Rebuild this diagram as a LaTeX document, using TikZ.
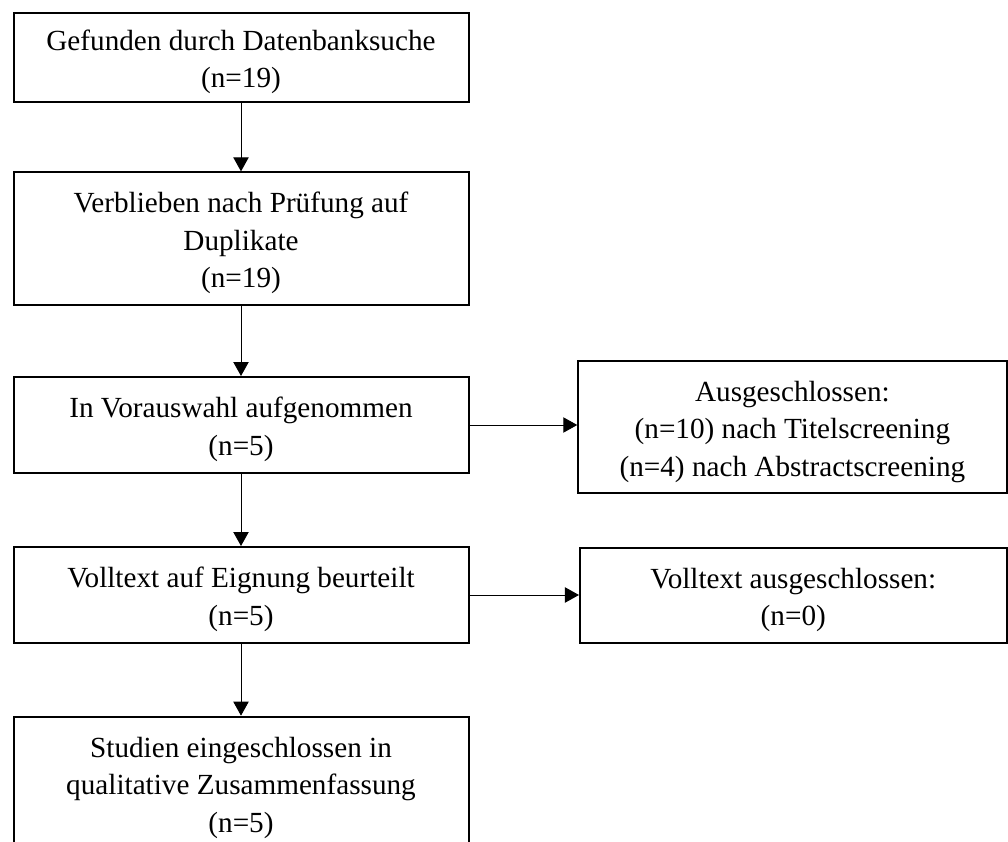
\documentclass[tikz,border=0pt]{standalone}
\usepackage{fontspec}
\setmainfont{Liberation Serif}
\usetikzlibrary{arrows.meta}

\newcommand{\toprow}{\rule{0pt}{22pt}}

\begin{document}
\begin{tikzpicture}[x=0.75pt, y=-0.75pt,
    box/.style={draw, line width=1.5pt, align=center, inner sep=0pt,
      font=\fontsize{21.9}{28.1}\selectfont},
    flow/.style={-{Triangle[length=10.5pt, width=11.5pt]}, line width=0.75pt}]
    \useasboundingbox (0,0) rectangle (1008,842);

    % Main column
    \node[box, minimum width=341.25pt, minimum height=66.75pt] (found) at (241,57.2) {\toprow Gefunden durch Datenbanksuche\\(n=19)};
    \node[box, minimum width=341.25pt, minimum height=99.5pt] (dupl) at (241,238.7) {\toprow Verblieben nach Prüfung auf\\Duplikate\\(n=19)};
    \node[box, minimum width=341.25pt, minimum height=72pt] (pre) at (241,425) {\toprow In Vorauswahl aufgenommen\\(n=5)};
    \node[box, minimum width=341.25pt, minimum height=72pt] (full) at (241,595) {\toprow Volltext auf Eignung beurteilt\\(n=5)};
    \node[box, minimum width=341.25pt, minimum height=99.5pt] (incl) at (241,783) {\toprow Studien eingeschlossen in\\qualitative Zusammenfassung\\(n=5)};

    % Exclusions
    \node[box, minimum width=321.2pt, minimum height=99pt] (excl) at (792.4,427.3) {\toprow Ausgeschlossen:\\(n=10) nach Titelscreening\\(n=4) nach Abstractscreening};
    \node[box, minimum width=320pt, minimum height=71.6pt] (fullexcl) at (793.3,595.3) {\toprow Volltext ausgeschlossen:\\(n=0)};

    % Arrows
    \draw[flow] (found) -- (dupl);
    \draw[flow] (dupl) -- (pre);
    \draw[flow] (pre) -- (full);
    \draw[flow] (full) -- (incl);
    \draw[flow] (pre.east) -- (pre.east -| excl.west);
    \draw[flow] (full.east) -- (full.east -| fullexcl.west);
\end{tikzpicture}
\end{document}
